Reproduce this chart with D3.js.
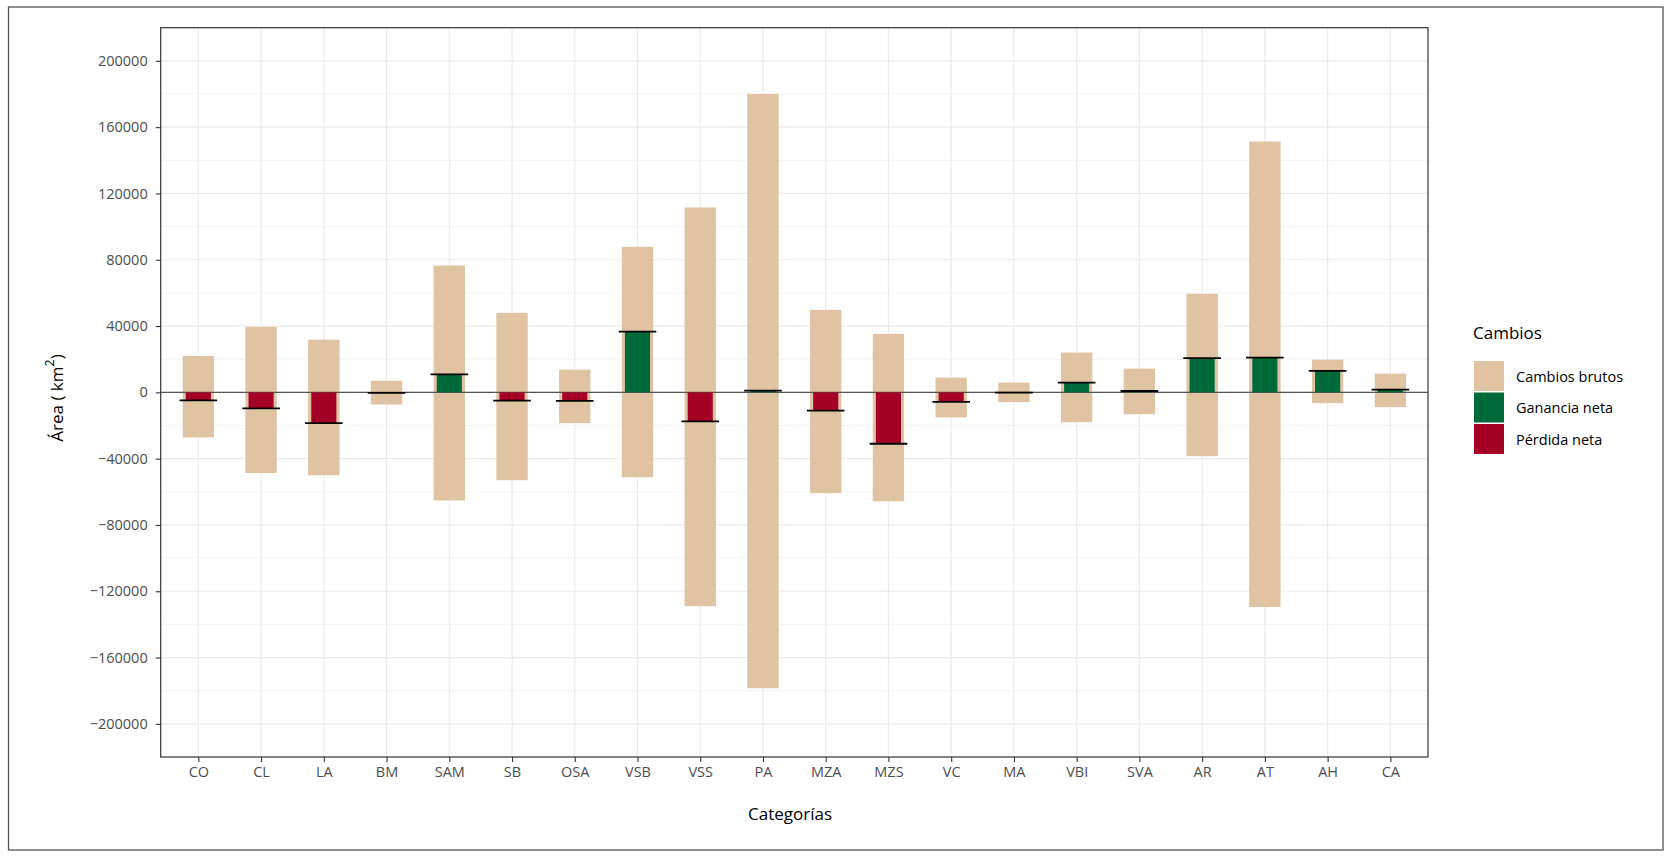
<!DOCTYPE html>
<html>
<head>
<meta charset="utf-8">
<script src="https://cdn.jsdelivr.net/npm/d3@7"></script>
<style>
    body { margin: 0; background: #fff; }
    svg text { font-family: "Open Sans", "Noto Sans", sans-serif; }
</style>
</head>
<body>
<div id="chart"></div>
<script>
// valores (km2)
var categorias = ["CO", "CL", "LA", "BM", "SAM", "SB", "OSA", "VSB", "VSS", "PA",
    "MZA", "MZS", "VC", "MA", "VBI", "SVA", "AR", "AT", "AH", "CA"];
var ganancias = [22000, 39500, 31800, 7000, 76500, 48000, 13700, 87800, 111500, 180100,
    49800, 35300, 8900, 5900, 24000, 14300, 59500, 151300, 19700, 11300];
var perdidas = [-27200, -48700, -50000, -7300, -65200, -53000, -18600, -51200, -129000, -178500,
    -60800, -65700, -15100, -5900, -18000, -13200, -38500, -129500, -6500, -8900];
var netos = [-4900, -9700, -18600, -300, 10800, -5000, -5100, 36600, -17500, 1100,
    -11000, -31000, -5700, -200, 5900, 800, 20700, 21000, 12900, 1600];
var yTicks = [-200000, -160000, -120000, -80000, -40000, 0, 40000, 80000, 120000, 160000, 200000];
var leyenda = ["Cambios brutos", "Ganancia neta", "Pérdida neta"];

var colores = { brutos: "#dfc3a3", ganancia: "#00693a", perdida: "#a50026" };

var Chart = function (params) {
    this.el = d3.select(params.queryEl);
    this.width = params.width;
    this.height = params.height;
    this.panel = params.panel;
};

Chart.prototype.init = function () {
    this.svg = this.el.append("svg")
        .attr("width", this.width)
        .attr("height", this.height);

    var p = this.panel;
    this.x = d3.scalePoint()
        .domain(categorias)
        .range([p.left, p.right])
        .padding(0.6);
    this.y = d3.scaleLinear()
        .domain([-220000, 220000])
        .range([p.bottom, p.top]);

    this.buildFrame();
    this.buildGrid();
    this.buildBars();
    this.buildAxes();
    this.buildLegend();
};

Chart.prototype.buildFrame = function () {
    this.svg.append("rect")
        .attr("x", 8.5).attr("y", 7)
        .attr("width", 1654.5).attr("height", 843)
        .attr("fill", "#fff")
        .attr("stroke", "#555")
        .attr("stroke-width", 1.3);
};

Chart.prototype.buildGrid = function () {
    var p = this.panel, x = this.x, y = this.y;
    var g = this.svg.append("g");

    var minor = d3.range(-220000, 220001, 40000);
    g.selectAll("line.minor").data(minor).enter().append("line")
        .attr("x1", p.left).attr("x2", p.right)
        .attr("y1", function (d) { return y(d); })
        .attr("y2", function (d) { return y(d); })
        .attr("stroke", "#ebebeb").attr("stroke-width", 0.6);

    g.selectAll("line.major").data(yTicks).enter().append("line")
        .attr("x1", p.left).attr("x2", p.right)
        .attr("y1", function (d) { return y(d); })
        .attr("y2", function (d) { return y(d); })
        .attr("stroke", "#ebebeb").attr("stroke-width", 1.2);

    g.selectAll("line.vmajor").data(categorias).enter().append("line")
        .attr("x1", function (d) { return x(d); })
        .attr("x2", function (d) { return x(d); })
        .attr("y1", p.top).attr("y2", p.bottom)
        .attr("stroke", "#ebebeb").attr("stroke-width", 1.2);
};

Chart.prototype.buildBars = function () {
    var x = this.x, y = this.y, step = x.step(), p = this.panel;
    var g = this.svg.append("g");

    // cambios brutos: de la pérdida a la ganancia
    g.selectAll("rect.bruto").data(categorias).enter().append("rect")
        .attr("x", function (d) { return x(d) - step * 0.25; })
        .attr("width", step * 0.5)
        .attr("y", function (d, i) { return y(ganancias[i]); })
        .attr("height", function (d, i) { return y(perdidas[i]) - y(ganancias[i]); })
        .attr("fill", colores.brutos);

    g.append("line")
        .attr("x1", p.left).attr("x2", p.right)
        .attr("y1", y(0)).attr("y2", y(0))
        .attr("stroke", "#555").attr("stroke-width", 1.1);

    g.selectAll("rect.neto").data(categorias).enter().append("rect")
        .attr("x", function (d) { return x(d) - step * 0.2; })
        .attr("width", step * 0.4)
        .attr("y", function (d, i) { return y(Math.max(0, netos[i])); })
        .attr("height", function (d, i) { return Math.abs(y(netos[i]) - y(0)); })
        .attr("fill", function (d, i) { return netos[i] >= 0 ? colores.ganancia : colores.perdida; });

    g.selectAll("line.neto").data(categorias).enter().append("line")
        .attr("x1", function (d) { return x(d) - step * 0.3; })
        .attr("x2", function (d) { return x(d) + step * 0.3; })
        .attr("y1", function (d, i) { return y(netos[i]); })
        .attr("y2", function (d, i) { return y(netos[i]); })
        .attr("stroke", "#000").attr("stroke-width", 1.8);
};

Chart.prototype.buildAxes = function () {
    var p = this.panel;
    var fmt = function (d) { return d < 0 ? "\u2212" + Math.abs(d) : String(d); };

    var yAxis = this.svg.append("g")
        .attr("transform", "translate(" + p.left + ",0)")
        .call(d3.axisLeft(this.y).tickValues(yTicks).tickFormat(fmt).tickSize(5).tickPadding(8));
    var xAxis = this.svg.append("g")
        .attr("transform", "translate(0," + p.bottom + ")")
        .call(d3.axisBottom(this.x).tickSize(5).tickPadding(5));

    [yAxis, xAxis].forEach(function (ax) {
        ax.select(".domain").remove();
        ax.selectAll(".tick line").attr("stroke", "#333").attr("stroke-width", 1.1);
        ax.selectAll(".tick text").attr("fill", "#4d4d4d").style("font-size", "14.5px");
    });

    this.svg.append("rect")
        .attr("x", p.left).attr("y", p.top)
        .attr("width", p.right - p.left).attr("height", p.bottom - p.top)
        .attr("fill", "none")
        .attr("stroke", "#333").attr("stroke-width", 1.2);

    this.svg.append("text")
        .attr("x", 790).attr("y", 820)
        .attr("text-anchor", "middle")
        .style("font-size", "17px")
        .text("Categorías");

    var yt = this.svg.append("text")
        .attr("transform", "translate(63,398) rotate(-90)")
        .attr("text-anchor", "middle")
        .style("font-size", "17px");
    yt.append("tspan").text("Área ( km");
    yt.append("tspan").attr("dy", -9).style("font-size", "12.5px").text("2");
    yt.append("tspan").attr("dy", 9).text(")");
};

Chart.prototype.buildLegend = function () {
    var g = this.svg.append("g");
    var fills = [colores.brutos, colores.ganancia, colores.perdida];

    g.append("text")
        .attr("x", 1473).attr("y", 339)
        .style("font-size", "17px")
        .text("Cambios");

    var items = g.selectAll("g.item").data(leyenda).enter().append("g")
        .attr("transform", function (d, i) { return "translate(1474," + (361 + i * 31.5) + ")"; });
    items.append("rect")
        .attr("width", 30).attr("height", 30)
        .attr("fill", function (d, i) { return fills[i]; });
    items.append("text")
        .attr("x", 42).attr("y", 20.5)
        .style("font-size", "14.5px")
        .text(function (d) { return d; });
};

var chart = new Chart({
    queryEl: "#chart",
    width: 1670,
    height: 857,
    panel: { left: 160.7, right: 1428, top: 27.7, bottom: 757 }
});
chart.init();
</script>
</body>
</html>
